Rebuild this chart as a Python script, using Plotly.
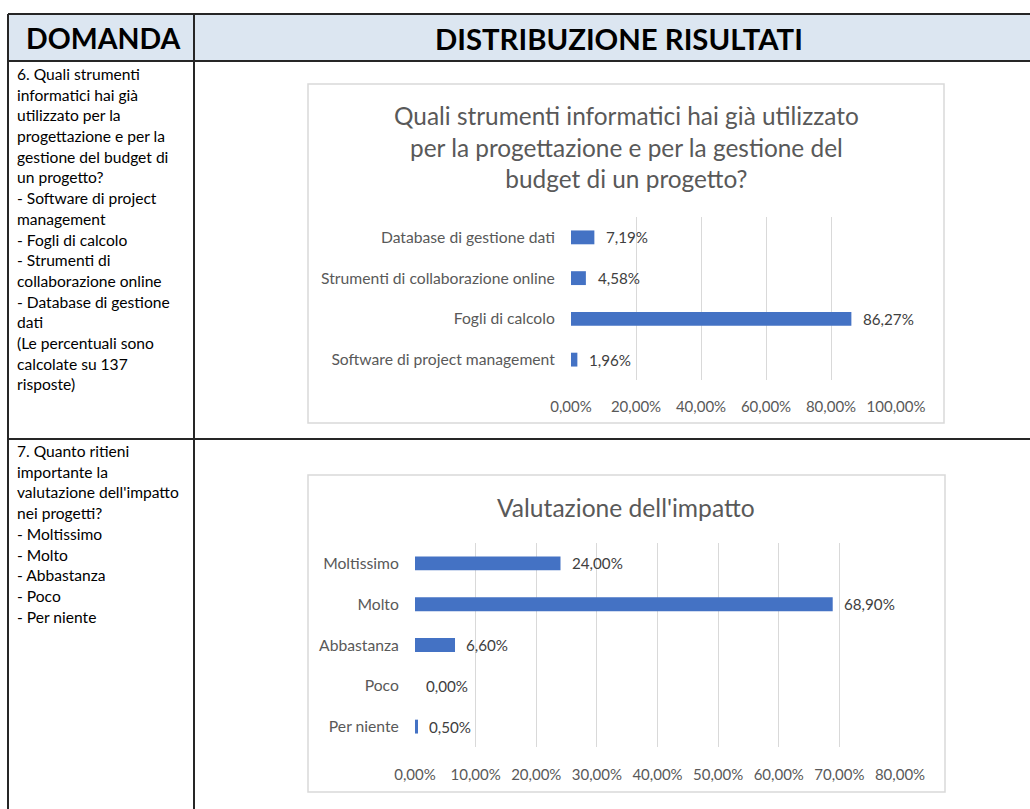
import plotly.graph_objects as go

W, H = 1030, 809

# ---------------- data ----------------
q6_categories = ["Software di project management", "Fogli di calcolo",
                 "Strumenti di collaborazione online", "Database di gestione dati"]
q6_values = [0.0196, 0.8627, 0.0458, 0.0719]
q6_ticks = [0, 0.2, 0.4, 0.6, 0.8, 1.0]

q7_categories = ["Per niente", "Poco", "Abbastanza", "Molto", "Moltissimo"]
q7_values = [0.005, 0.0, 0.066, 0.689, 0.24]
q7_ticks = [0, 0.1, 0.2, 0.3, 0.4, 0.5, 0.6, 0.7, 0.8]

header_left = "DOMANDA"
header_right = "DISTRIBUZIONE RISULTATI"
title_q6 = ("Quali strumenti informatici hai già utilizzato<br>"
            "per la progettazione e per la gestione del<br>"
            "budget di un progetto?")
title_q7 = "Valutazione dell'impatto"

text_q6 = ["6. Quali strumenti", "informatici hai già", "utilizzato per la",
           "progettazione e per la", "gestione del budget di", "un progetto?",
           "- Software di project", "management", "- Fogli di calcolo",
           "- Strumenti di", "collaborazione online", "- Database di gestione",
           "dati", "(Le percentuali sono", "calcolate su 137", "risposte)"]
text_q7 = ["7. Quanto ritieni", "importante la", "valutazione dell'impatto",
           "nei progetti?", "- Moltissimo", "- Molto", "- Abbastanza", "- Poco",
           "- Per niente"]

BAR = "#4472C4"
GREY = "#595959"
FONT = "Lato"


def px(x):
    return x / W


def py(y):
    return 1 - y / H


fig = go.Figure()

fig.add_trace(go.Bar(x=q6_values, y=q6_categories, orientation="h",
                     marker=dict(color=BAR, line=dict(width=0)),
                     xaxis="x", yaxis="y", hoverinfo="skip"))
fig.add_trace(go.Bar(x=q7_values, y=q7_categories, orientation="h",
                     marker=dict(color=BAR, line=dict(width=0)),
                     xaxis="x2", yaxis="y2", hoverinfo="skip"))

annotations = []
# data labels
for c, v in zip(q6_categories, q6_values):
    annotations.append(dict(x=v, y=c, xref="x", yref="y", text=f"{v*100:.2f}%".replace(".", ","),
                            showarrow=False, xanchor="left", xshift=10,
                            font=dict(family=FONT, size=15.2, color="#404040")))
for c, v in zip(q7_categories, q7_values):
    annotations.append(dict(x=v, y=c, xref="x2", yref="y2", text=f"{v*100:.2f}%".replace(".", ","),
                            showarrow=False, xanchor="left", xshift=9,
                            font=dict(family=FONT, size=15.2, color="#404040")))

# headers
annotations.append(dict(x=px(103), y=py(38), xref="paper", yref="paper", text=f"<b>{header_left}</b>",
                        showarrow=False, xanchor="center", yanchor="middle",
                        font=dict(family=FONT, size=28.5, color="black")))
annotations.append(dict(x=px(619), y=py(38), xref="paper", yref="paper", text=f"<b>{header_right}</b>",
                        showarrow=False, xanchor="center", yanchor="middle",
                        font=dict(family=FONT, size=29.3, color="black")))

# chart titles
annotations.append(dict(x=px(626), y=py(147), xref="paper", yref="paper", text=title_q6,
                        showarrow=False, xanchor="center", yanchor="middle", align="center",
                        font=dict(family=FONT, size=24.4, color=GREY)))
annotations.append(dict(x=px(626), y=py(507), xref="paper", yref="paper", text=title_q7,
                        showarrow=False, xanchor="center", yanchor="middle",
                        font=dict(family=FONT, size=24.6, color=GREY)))

# left column texts
for i, line in enumerate(text_q6):
    annotations.append(dict(x=px(15), y=py(74 + i * 20.7), xref="paper", yref="paper", text=line,
                            showarrow=False, xanchor="left", yanchor="middle",
                            font=dict(family=FONT, size=15.6, color="black")))
for i, line in enumerate(text_q7):
    annotations.append(dict(x=px(15), y=py(451 + i * 20.7), xref="paper", yref="paper", text=line,
                            showarrow=False, xanchor="left", yanchor="middle",
                            font=dict(family=FONT, size=15.6, color="black")))

shapes = [
    # header fill
    dict(type="rect", xref="paper", yref="paper", x0=px(8), x1=px(1031), y0=py(14), y1=py(61),
         fillcolor="#DCE6F1", line=dict(width=0), layer="below"),
    # chart boxes
    dict(type="rect", xref="paper", yref="paper", x0=px(308), x1=px(944), y0=py(84), y1=py(423),
         fillcolor="white", line=dict(color="#D9D9D9", width=1.5), layer="below"),
    dict(type="rect", xref="paper", yref="paper", x0=px(308), x1=px(945), y0=py(475), y1=py(792),
         fillcolor="white", line=dict(color="#D9D9D9", width=1.5), layer="below"),
]
LINE = dict(color="#262626", width=2)
for (x0, y0, x1, y1) in [(8, 14, 1031, 14), (8, 61, 1031, 61), (8, 439, 1031, 439),
                         (8, 14, 8, 810), (194, 14, 194, 810)]:
    shapes.append(dict(type="line", xref="paper", yref="paper", x0=px(x0), x1=px(x1),
                       y0=py(y0), y1=py(y1), line=LINE))

axis_font = dict(family=FONT, size=15, color=GREY)
common = dict(automargin=False, fixedrange=True, zeroline=False, showline=False,
              ticks="outside", tickcolor="rgba(0,0,0,0)")
fig.update_layout(
    width=W, height=H, autosize=False, margin=dict(l=0, r=0, t=0, b=0, pad=0),
    paper_bgcolor="white", plot_bgcolor="rgba(0,0,0,0)",
    showlegend=False, separators=",.", bargap=0.66,
    annotations=annotations, shapes=shapes,
    xaxis=dict(domain=[px(571), px(896)], range=[0, 1.0], tickvals=q6_ticks, tickformat=".2%",
               showgrid=True, gridcolor="#D9D9D9", gridwidth=1, ticklen=13,
               tickfont=axis_font, anchor="y", **common),
    yaxis=dict(domain=[py(380), py(217)], categoryorder="array", categoryarray=q6_categories,
               showgrid=False, ticklen=12, tickfont=dict(family=FONT, size=15.7, color=GREY),
               anchor="x", **common),
    xaxis2=dict(domain=[px(415), px(900)], range=[0, 0.8], tickvals=q7_ticks, tickformat=".2%",
                showgrid=True, gridcolor="#D9D9D9", gridwidth=1, ticklen=14,
                tickfont=axis_font, anchor="y2", **common),
    yaxis2=dict(domain=[py(747), py(543)], categoryorder="array", categoryarray=q7_categories,
                showgrid=False, ticklen=12, tickfont=dict(family=FONT, size=15.7, color=GREY),
                anchor="x2", **common),
)

fig.write_html("out.html",
               config={"responsive": False, "displayModeBar": False},
               post_script="document.body.style.margin='0';document.body.style.overflow='hidden';")
